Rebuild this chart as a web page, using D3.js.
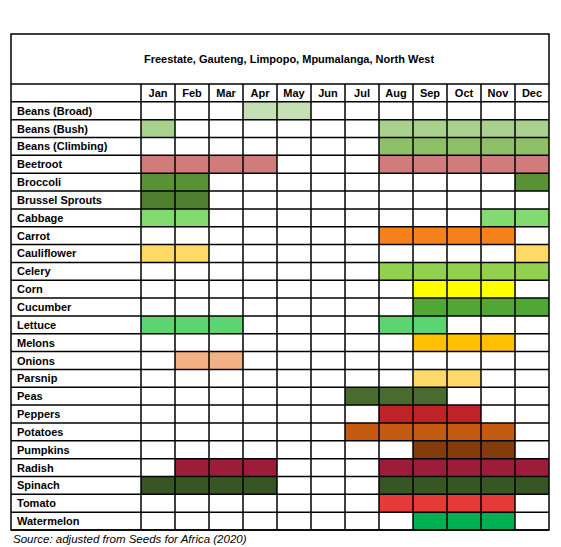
<!DOCTYPE html><html><head><meta charset="utf-8">
<script src="https://cdn.jsdelivr.net/npm/d3@7"></script>
<style>body{margin:0;background:#fff}</style></head><body>
<svg id="c" width="561" height="547"></svg>
<script>
const months=["Jan","Feb","Mar","Apr","May","Jun","Jul","Aug","Sep","Oct","Nov","Dec"];
const crops=["Beans (Broad)","Beans (Bush)","Beans (Climbing)","Beetroot","Broccoli","Brussel Sprouts","Cabbage","Carrot","Cauliflower","Celery","Corn","Cucumber","Lettuce","Melons","Onions","Parsnip","Peas","Peppers","Potatoes","Pumpkins","Radish","Spinach","Tomato","Watermelon"];
const sowMonths=[["Apr","May"],["Jan","Aug","Sep","Oct","Nov","Dec"],["Aug","Sep","Oct","Nov","Dec"],["Jan","Feb","Mar","Apr","Aug","Sep","Oct","Nov","Dec"],["Jan","Feb","Dec"],["Jan","Feb"],["Jan","Feb","Nov","Dec"],["Aug","Sep","Oct","Nov"],["Jan","Feb","Dec"],["Aug","Sep","Oct","Nov","Dec"],["Sep","Oct","Nov"],["Sep","Oct","Nov","Dec"],["Jan","Feb","Mar","Aug","Sep"],["Sep","Oct","Nov"],["Feb","Mar"],["Sep","Oct"],["Jul","Aug","Sep"],["Aug","Sep","Oct"],["Jul","Aug","Sep","Oct","Nov"],["Sep","Oct","Nov"],["Feb","Mar","Apr","Aug","Sep","Oct","Nov","Dec"],["Jan","Feb","Mar","Apr","Aug","Sep","Oct","Nov","Dec"],["Aug","Sep","Oct","Nov"],["Sep","Oct","Nov"]];
const cropColors=["#c5e0b4","#a9d18e","#8fc065","#d17c7c","#5b9137","#4f7f2f","#80dc6e","#f7821b","#ffd966","#92d050","#ffff00","#50a733","#5bd572","#ffc000","#f4b183","#ffd966","#4a6b2f","#bf2227","#c55a11","#843c0c","#9c1c3a","#375623","#e53a37","#00b050"];
const title="Freestate, Gauteng, Limpopo, Mpumalanga, North West";
const source="Source: adjusted from Seeds for Africa (2020)";

const svg=d3.select("#c");
const L=11,R=549,T=34,HB=84,labR=141,B=530;
const x=d3.scaleBand().domain(months).range([labR,R]);
const y=d3.scaleBand().domain(["__h"].concat(crops)).range([HB,B]);
const font="'Liberation Sans',Arial,sans-serif";
// cells
crops.forEach((c,i)=>{
  svg.selectAll(null).data(sowMonths[i]).enter().append("rect")
    .attr("x",m=>x(m)).attr("y",y(c)).attr("width",x.bandwidth()).attr("height",y.bandwidth())
    .attr("fill",cropColors[i]);
});
const g=svg.append("g").attr("stroke","#000").attr("stroke-width",1.5);
// grid lines
y.domain().forEach(d=>g.append("line").attr("x1",L).attr("x2",R).attr("y1",y(d)).attr("y2",y(d)));
g.append("line").attr("x1",L).attr("x2",R).attr("y1",B).attr("y2",B);
months.forEach(m=>g.append("line").attr("x1",x(m)).attr("x2",x(m)).attr("y1",HB).attr("y2",B));
g.append("rect").attr("x",L).attr("y",T).attr("width",R-L).attr("height",B-T).attr("fill","none");
// title
svg.append("text").attr("x",(L+R)/2+9).attr("y",(T+HB)/2+4).attr("text-anchor","middle")
  .attr("font-family",font).attr("font-weight","bold").attr("font-size",11).text(title);
months.forEach(m=>svg.append("text").attr("x",x(m)+x.bandwidth()/2).attr("y",y("__h")+y.bandwidth()/2+4)
  .attr("text-anchor","middle").attr("font-family",font).attr("font-weight","bold").attr("font-size",11).text(m));
crops.forEach(c=>svg.append("text").attr("x",L+6).attr("y",y(c)+y.bandwidth()/2+4)
  .attr("font-family",font).attr("font-weight","bold").attr("font-size",11).text(c));
svg.append("text").attr("x",L+2).attr("y",543).attr("font-family",font).attr("font-style","italic")
  .attr("font-size",11.5).text(source);
</script></body></html>
